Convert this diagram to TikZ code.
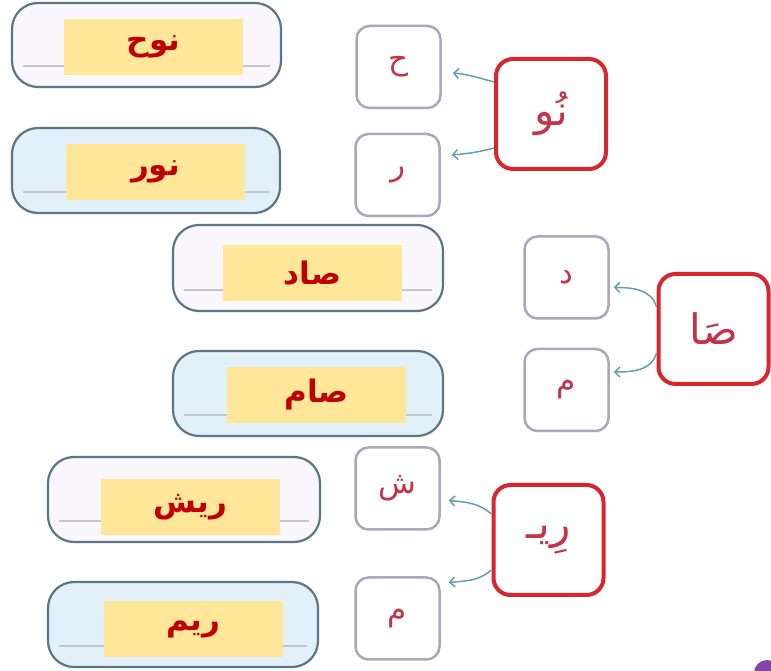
\documentclass[tikz,border=0pt]{standalone}
\usepackage{fontspec}
\newfontfamily\arabicfont[Script=Arabic]{DejaVu Sans}
\TeXXeTstate=1
\usetikzlibrary{arrows.meta}
\definecolor{pillborder}{RGB}{92,118,132}
\definecolor{pillfillA}{RGB}{250,247,252}
\definecolor{pillfillB}{RGB}{226,241,249}
\definecolor{pillline}{RGB}{196,198,206}
\definecolor{ansyellow}{RGB}{255,230,153}
\definecolor{ansred}{RGB}{192,0,0}
\definecolor{letterborder}{RGB}{168,168,186}
\definecolor{lettertext}{RGB}{196,52,72}
\definecolor{redborder}{RGB}{215,38,46}
\definecolor{arrowcol}{RGB}{96,160,178}
\definecolor{purpledot}{RGB}{130,70,170}
\tikzset{
  pill/.style={draw=pillborder, line width=2.2pt, rounded corners=26pt, inner sep=0pt},
  pillA/.style={pill, fill=pillfillA},
  pillB/.style={pill, fill=pillfillB},
  ansbox/.style={fill=ansyellow, inner sep=0pt, minimum width=179pt, minimum height=56pt,
    text=ansred, font=\arabicfont\bfseries\fontsize{31}{36}\selectfont},
  writeline/.style={draw=pillline, line width=1.3pt},
  letterbox/.style={draw=letterborder, line width=2.5pt, rounded corners=13pt, fill=white,
    inner sep=0pt, minimum width=84pt, minimum height=82pt,
    text=lettertext, font=\arabicfont\fontsize{31}{36}\selectfont},
  syllbox/.style={draw=redborder, line width=4pt, rounded corners=17pt, fill=white,
    inner sep=0pt, minimum width=110pt, minimum height=110pt,
    text=lettertext, font=\arabicfont\fontsize{42}{48}\selectfont},
  arr/.style={draw=arrowcol, line width=1.5pt, -{Straight Barb[length=5pt,width=10pt]}}
}
\begin{document}
\begin{tikzpicture}[x=1pt,y=1pt]
\useasboundingbox (0,0) rectangle (771,671);
\fill[white] (0,0) rectangle (771,671);

% answer pills
\node[pillA, minimum width=269pt, minimum height=84pt] (A1) at (146.5,626) {};
\node[pillB, minimum width=268pt, minimum height=85pt] (A2) at (146,500.5) {};
\node[pillA, minimum width=270pt, minimum height=86pt] (A3) at (308,403) {};
\node[pillB, minimum width=270pt, minimum height=85pt] (A4) at (308,277.5) {};
\node[pillA, minimum width=272pt, minimum height=85pt] (A5) at (184,171.5) {};
\node[pillB, minimum width=270pt, minimum height=85pt] (A6) at (183,46.5) {};
\foreach \p in {A1,A2,A3,A4,A5,A6}{
  \draw[writeline] ([xshift=12pt,yshift=22pt]\p.south west) -- ([xshift=-12pt,yshift=22pt]\p.south east);
}

% yellow answers
\node[ansbox] (Y1) at (153.5,624) {\beginR نوح\endR};
\node[ansbox] (Y2) at (155.5,499) {\beginR نور\endR};
\node[ansbox] (Y3) at (312.5,398) {\beginR صاد\endR};
\node[ansbox] (Y4) at (316.5,276) {\beginR صام\endR};
\node[ansbox] (Y5) at (190.5,164) {\beginR ريش\endR};
\node[ansbox] (Y6) at (193.5,41.5) {\beginR ريم\endR};

% letter boxes
\node[letterbox] (L1) at (398.5,604) {\beginR ح\endR};
\node[letterbox] (L2) at (397.5,496) {\beginR ر\endR};
\node[letterbox] (L3) at (566.5,393.5) {\beginR د\endR};
\node[letterbox] (L4) at (566.5,281) {\beginR م\endR};
\node[letterbox] (L5) at (397.5,182.5) {\beginR ش\endR};
\node[letterbox] (L6) at (397.5,52.5) {\beginR م\endR};

% syllable boxes
\node[syllbox] (R1) at (551,557) {\beginR نُو\endR};
\node[syllbox] (R2) at (713.5,342) {\beginR صَا\endR};
\node[syllbox] (R3) at (548.5,131) {\beginR رِيـ\endR};

% arrows
\draw[arr] ([yshift=32pt]R1.west) to[out=165,in=-5] ([xshift=11pt,yshift=-6pt]L1.east);
\draw[arr] ([yshift=-34pt]R1.west) to[out=-165,in=5] ([xshift=11pt,yshift=20pt]L2.east);
\draw[arr] ([yshift=22pt]R2.west) to[out=105,in=0] ([xshift=4pt,yshift=-10pt]L3.east);
\draw[arr] ([yshift=-24pt]R2.west) to[out=-105,in=0] ([xshift=4pt,yshift=18pt]L4.east);
\draw[arr] ([yshift=26pt]R3.west) to[out=140,in=-5] ([xshift=8pt,yshift=-12pt]L5.east);
\draw[arr] ([yshift=-30pt]R3.west) to[out=-140,in=5] ([xshift=8pt,yshift=36pt]L6.east);

% purple dot at the corner
\begin{scope}
\clip (0,0) rectangle (771,671);
\fill[purpledot] (767,-2) circle (13pt);
\end{scope}
\end{tikzpicture}
\end{document}
